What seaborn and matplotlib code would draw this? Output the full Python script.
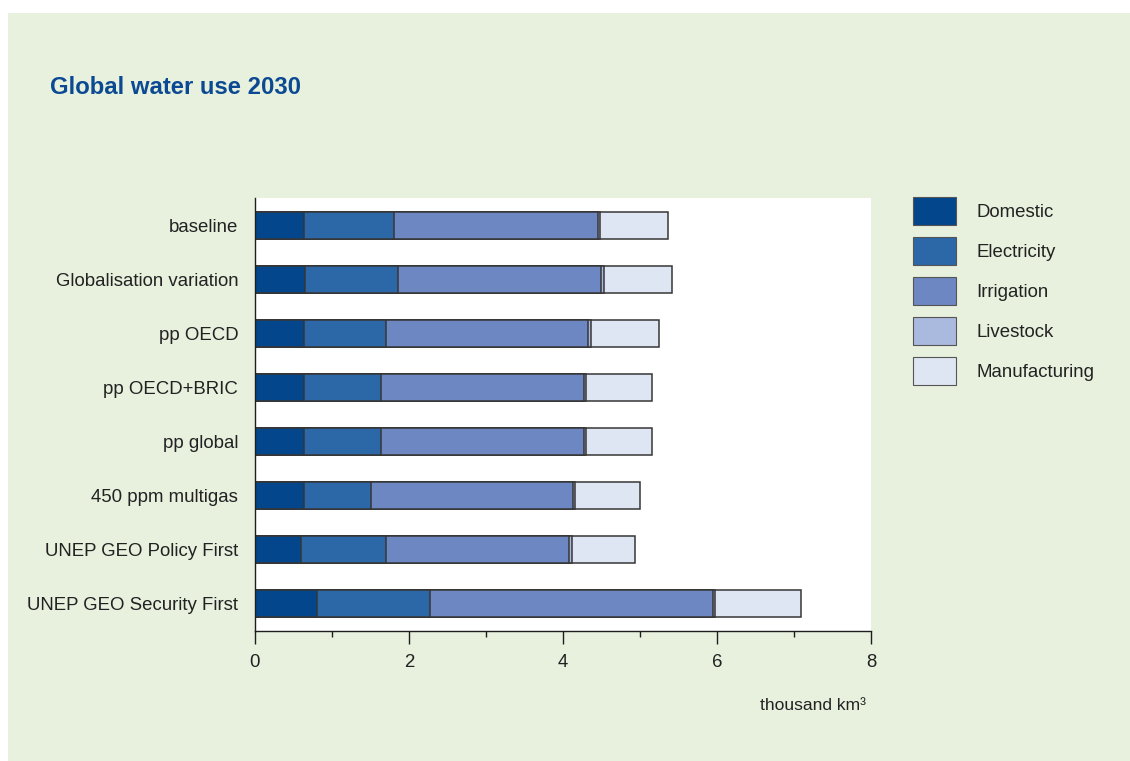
import numpy as np
import pandas as pd
import matplotlib
matplotlib.use("Agg")
import matplotlib.pyplot as plt
from matplotlib.patches import Patch, Rectangle
from matplotlib.ticker import MultipleLocator
from matplotlib import font_manager as fm
import seaborn as sns

# ---- data (thousand km3) ----
scenarios = [
    "baseline",
    "Globalisation variation",
    "pp OECD",
    "pp OECD+BRIC",
    "pp global",
    "450 ppm multigas",
    "UNEP GEO Policy First",
    "UNEP GEO Security First",
]
sectors = ["Domestic", "Electricity", "Irrigation", "Livestock", "Manufacturing"]
domestic = [0.64, 0.645, 0.64, 0.63, 0.635, 0.635, 0.60, 0.80]
electricity = [1.17, 1.21, 1.06, 1.01, 1.00, 0.865, 1.10, 1.47]
irrigation = [2.64, 2.64, 2.63, 2.63, 2.635, 2.625, 2.38, 3.68]
livestock = [0.03, 0.035, 0.035, 0.03, 0.03, 0.03, 0.035, 0.03]
manufacturing = [0.89, 0.885, 0.88, 0.86, 0.855, 0.845, 0.825, 1.11]
x_ticks = [0, 2, 4, 6, 8]

colors = ["#03468c", "#2c68a8", "#6d87c2", "#aab9de", "#dfe6f3"]
panel_bg = "#e8f1de"
title_color = "#0b4a92"
edge = "#363636"

# ---- fonts ----
names = {f.name for f in fm.fontManager.ttflist}
if "Liberation Sans Narrow" in names:
    family, k = "Liberation Sans Narrow", 1.0
else:
    family, k = "Liberation Sans", 0.84

sns.set_theme(style="white")
plt.rcParams["font.family"] = [family, "DejaVu Sans"]
plt.rcParams["text.color"] = "#222222"

df = pd.DataFrame({
    "scenario": scenarios,
    "Domestic": domestic,
    "Electricity": electricity,
    "Irrigation": irrigation,
    "Livestock": livestock,
    "Manufacturing": manufacturing,
})
# cumulative totals so each sector bar is drawn over the next one
cum = df[sectors].cumsum(axis=1)
cum["scenario"] = df["scenario"]

W, H = 1130, 761
fig = plt.figure(figsize=(W / 100, H / 100), dpi=100, facecolor="white")
fig.patches.append(Rectangle((8 / W, 0), 1 - 8 / W, 1 - 13 / H,
                             transform=fig.transFigure, facecolor=panel_bg,
                             edgecolor="none", zorder=-10))

ax = fig.add_axes([255 / W, 1 - 631 / H, (871 - 255) / W, (631 - 198) / H])
ax.set_facecolor("white")

for sector, col in reversed(list(zip(sectors, colors))):
    sns.barplot(data=cum, x=sector, y="scenario", orient="h", color=col,
                saturation=1, width=0.5, edgecolor=edge, linewidth=1.1,
                order=scenarios, ax=ax)

ax.set_xlim(0, 8)
ax.set_ylim(len(scenarios) - 0.5, -0.5)
ax.set_xticks(x_ticks)
ax.set_xticklabels([str(t) for t in x_ticks])
ax.xaxis.set_minor_locator(MultipleLocator(1))
ax.set_xlabel("")
ax.set_ylabel("")

for side in ["top", "right"]:
    ax.spines[side].set_visible(False)
for side in ["left", "bottom"]:
    ax.spines[side].set_color("#1e1e1e")
    ax.spines[side].set_linewidth(1.0)

ax.tick_params(axis="y", length=0, pad=12, labelsize=16 * k, labelcolor="#222222")
ax.tick_params(axis="x", which="major", direction="out", length=9.4, width=1.0,
               color="#1e1e1e", pad=7, labelsize=16 * k, labelcolor="#222222",
               bottom=True)
ax.tick_params(axis="x", which="minor", direction="out", length=4.3, width=1.0,
               color="#1e1e1e", bottom=True)

fig.text(50 / W, 1 - 87 / H, "Global water use 2030", ha="left", va="center",
         fontsize=20.5 * k, fontweight="bold", color=title_color)
fig.text(866 / W, 1 - 706 / H, "thousand km³", ha="right", va="center",
         fontsize=15 * k, color="#222222")

# legend: boxes 43 x 28 px, rows 40 px apart
lfs = 16 * k
px = lfs * 100 / 72
box_h = 28 / px
handleheight = (box_h - 0.245) / 0.65
handles = [Patch(facecolor=c, edgecolor="#555555", linewidth=0.8) for c in colors]
fig.legend(handles, sectors, loc="upper left",
           bbox_to_anchor=(913 / W, 1 - 197 / H), frameon=False,
           borderaxespad=0, borderpad=0, fontsize=lfs,
           handlelength=43 / px, handleheight=handleheight,
           labelspacing=12 / px, handletextpad=20 / px)

fig.savefig("out.png", dpi=100, facecolor=fig.get_facecolor())
